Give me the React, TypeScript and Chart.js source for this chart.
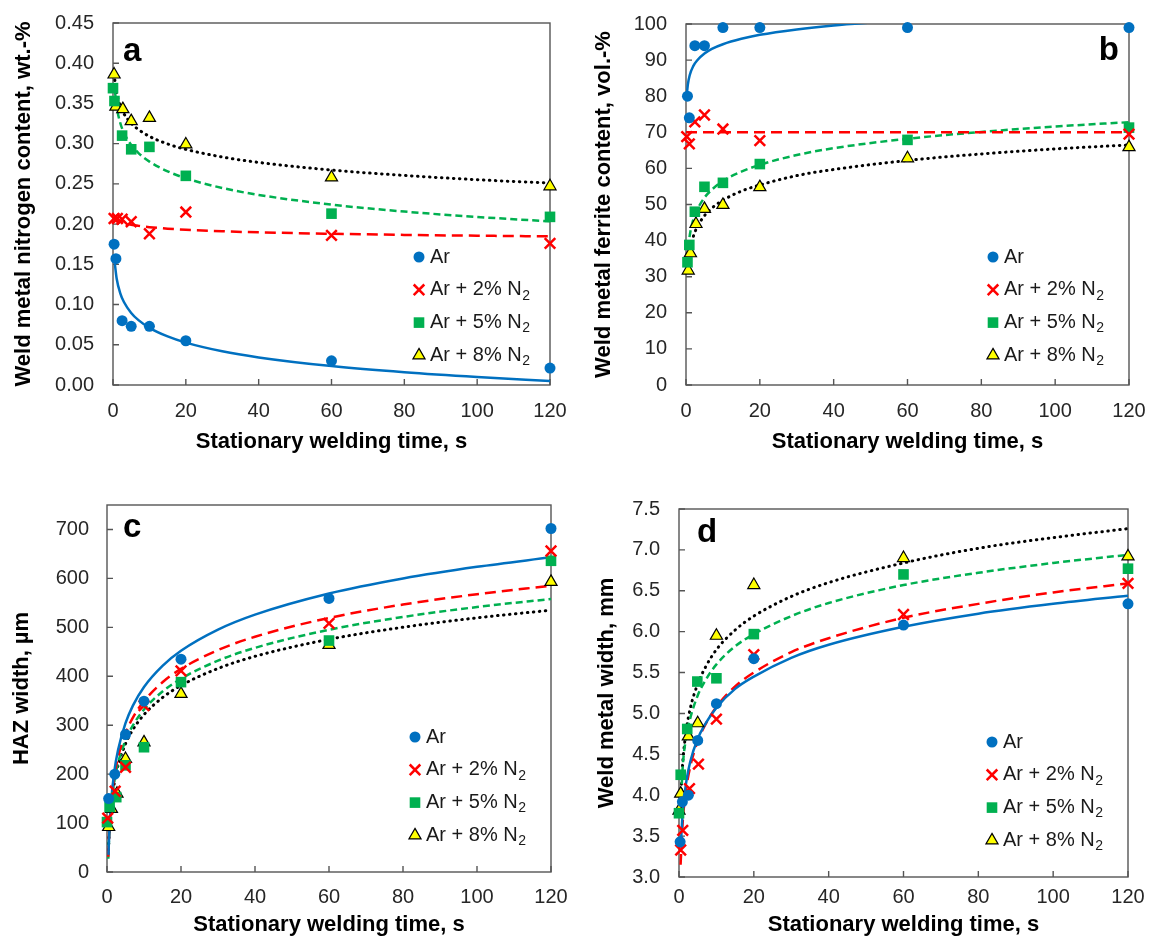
import React, { useEffect, useRef } from "react";
import { Chart, registerables } from "chart.js";

Chart.register(...registerables);

const FONT = '"Liberation Sans", Arial, Helvetica, sans-serif';

// ---------- shared ----------
const X_TICKS_MAX = 120;
const X_STEP = 20;
const X_TITLE = "Stationary welding time, s";
const LEGEND_LABELS = ["Ar", "Ar + 2% N", "Ar + 5% N", "Ar + 8% N"];
const LEGEND_SUBS = ["", "2", "2", "2"];

// ---------- panel a : nitrogen content ----------
const A_AR_X = [0.3, 0.8, 2.5, 5, 10, 20, 60, 120];
const A_AR_Y = [0.175, 0.157, 0.08, 0.073, 0.073, 0.055, 0.03, 0.021];
const A_N2_X = [0.3, 1.2, 2.5, 5, 10, 20, 60, 120];
const A_N2_Y = [0.207, 0.207, 0.206, 0.203, 0.188, 0.215, 0.186, 0.176];
const A_N5_X = [0, 0.4, 2.5, 5, 10, 20, 60, 120];
const A_N5_Y = [0.369, 0.353, 0.31, 0.293, 0.296, 0.26, 0.213, 0.209];
const A_N8_X = [0.3, 0.8, 2.7, 5, 10, 20, 60, 120];
const A_N8_Y = [0.386, 0.346, 0.343, 0.328, 0.332, 0.299, 0.258, 0.247];

const A_TREND_X = [0.5, 1, 2, 3, 5, 7, 10, 15, 20, 30, 40, 60, 80, 100, 120];
const A_AR_TY = [0.1508, 0.1324, 0.114, 0.1032, 0.0896, 0.0806, 0.0711, 0.0604, 0.0527, 0.0419, 0.0343, 0.0235, 0.0158, 0.0099, 0.0051];
const A_N2_TY = [0.2099, 0.2067, 0.2035, 0.2017, 0.1993, 0.1978, 0.1962, 0.1943, 0.193, 0.1911, 0.1898, 0.188, 0.1866, 0.1856, 0.1848];
const A_N5_TY = [0.3671, 0.3464, 0.3257, 0.3136, 0.2984, 0.2883, 0.2777, 0.2656, 0.257, 0.2449, 0.2363, 0.2242, 0.2156, 0.2089, 0.2035];
const A_N8_TY = [0.3792, 0.363, 0.3468, 0.3373, 0.3254, 0.3175, 0.3091, 0.2996, 0.2929, 0.2834, 0.2767, 0.2672, 0.2605, 0.2552, 0.251];

// ---------- panel b : ferrite content ----------
const B_AR_X = [0.4, 0.9, 2.4, 5, 10, 20, 60, 120];
const B_AR_Y = [80, 74, 94, 94, 99, 99, 99, 99];
const B_N2_X = [0.2, 0.9, 2.4, 5, 10, 20, 120];
const B_N2_Y = [68.8, 66.8, 72.9, 74.8, 70.9, 67.7, 69.5];
const B_N5_X = [0.4, 0.9, 2.4, 5, 10, 20, 60, 120];
const B_N5_Y = [34.0, 38.8, 48.0, 54.9, 56.0, 61.2, 67.9, 71.3];
const B_N8_X = [0.6, 1.2, 2.7, 5, 10, 20, 60, 120];
const B_N8_Y = [31.7, 36.5, 44.6, 48.8, 49.9, 54.8, 62.8, 65.9];

const B_AR_TX = [0.3, 0.5, 1, 2, 3, 5, 7, 10, 15, 20, 30, 40, 50, 60];
const B_AR_TY = [81.3, 83.2, 85.8, 88.4, 89.9, 91.8, 93.1, 94.4, 95.9, 97.0, 98.5, 99.6, 100.4, 101.1];
const B_N2_TX = [0, 120];
const B_N2_TY = [70, 70];
const B_N5_TX = [0.6, 1, 2, 3, 5, 7, 10, 15, 20, 30, 40, 60, 80, 100, 120];
const B_N5_TY = [37.9, 41.3, 45.9, 48.5, 51.9, 54.1, 56.5, 59.1, 61.0, 63.7, 65.6, 68.2, 70.1, 71.6, 72.8];
const B_N8_TX = [0.7, 1, 2, 3, 5, 7, 10, 15, 20, 30, 40, 60, 80, 100, 120];
const B_N8_TY = [34.7, 36.9, 41.2, 43.7, 46.9, 49.0, 51.2, 53.7, 55.4, 58.0, 59.7, 62.2, 64.0, 65.4, 66.5];

// ---------- panel c : HAZ width ----------
const C_AR_X = [0.45, 2.1, 5, 10, 20, 60, 120];
const C_AR_Y = [150, 200, 281, 349, 435, 559, 702];
const C_N2_X = [0.2, 2.2, 5, 10, 20, 60, 120];
const C_N2_Y = [110, 165, 214, 340, 411, 508, 656];
const C_N5_X = [0, 0.7, 2.5, 5, 10, 20, 60, 120];
const C_N5_Y = [102, 133, 153, 218, 255, 388, 473, 636];
const C_N8_X = [0.45, 1.2, 2.7, 5, 10, 20, 60, 120];
const C_N8_Y = [92, 129, 160, 231, 265, 364, 464, 593];

const C_AR_TX = [0.4, 0.5, 1, 2, 3, 5, 7, 10, 15, 20, 30, 40, 60, 80, 100, 120];
const C_AR_TY = [35, 58.8, 132.7, 206.6, 249.8, 304.3, 340.1, 378.2, 421.4, 452.1, 495.3, 525.9, 569.1, 599.8, 623.6, 643.0];
const C_N2_TX = [0.35, 0.5, 1, 2, 3, 5, 7, 10, 15, 20, 30, 40, 60, 80, 100, 120];
const C_N2_TY = [31, 64.9, 130.7, 196.5, 235.0, 283.4, 315.4, 349.2, 387.7, 415.0, 453.5, 480.8, 519.2, 546.6, 567.7, 585.0];
const C_N5_TX = [0.35, 0.5, 1, 2, 3, 5, 7, 10, 15, 20, 30, 40, 60, 80, 100, 120];
const C_N5_TY = [27, 59.3, 122.4, 185.5, 222.4, 268.8, 299.5, 332.0, 368.8, 395.0, 431.9, 458.1, 495.0, 521.2, 541.5, 558.0];
const C_N8_TX = [0.4, 0.5, 1, 2, 3, 5, 7, 10, 15, 20, 30, 40, 60, 80, 100, 120];
const C_N8_TY = [45, 64.3, 123.8, 183.3, 218.2, 262.0, 291.0, 321.6, 356.4, 381.2, 415.9, 440.7, 475.5, 500.2, 519.4, 535.0];

// ---------- panel d : weld metal width ----------
const D_AR_X = [0.3, 0.9, 2.5, 5, 10, 20, 60, 120];
const D_AR_Y = [3.43, 3.92, 4.0, 4.67, 5.12, 5.67, 6.08, 6.34];
const D_N2_X = [0.45, 1, 2.8, 5.2, 10, 20, 60, 120];
const D_N2_Y = [3.33, 3.57, 4.08, 4.38, 4.93, 5.72, 6.21, 6.59];
const D_N5_X = [0, 0.45, 2.2, 4.9, 10, 20, 60, 120];
const D_N5_Y = [3.78, 4.25, 4.81, 5.39, 5.43, 5.97, 6.7, 6.77];
const D_N8_X = [0, 0.45, 2.5, 5, 10, 20, 60, 120];
const D_N8_Y = [3.81, 4.02, 4.72, 4.88, 5.95, 6.57, 6.9, 6.92];

const D_AR_TX = [0.45, 1, 2, 3, 5, 7, 10, 15, 20, 30, 40, 60, 80, 100, 120];
const D_AR_TY = [3.36, 3.8, 4.18, 4.41, 4.69, 4.87, 5.07, 5.3, 5.45, 5.68, 5.84, 6.06, 6.22, 6.34, 6.44];
const D_N2_TX = [0.42, 1, 2, 3, 5, 7, 10, 15, 20, 30, 40, 60, 80, 100, 120];
const D_N2_TY = [3.15, 3.68, 4.1, 4.35, 4.66, 4.86, 5.08, 5.33, 5.5, 5.75, 5.92, 6.17, 6.34, 6.48, 6.59];
const D_N5_TX = [0.32, 1, 2, 3, 5, 7, 10, 15, 20, 30, 40, 60, 80, 100, 120];
const D_N5_TY = [3.73, 4.35, 4.73, 4.94, 5.22, 5.4, 5.6, 5.82, 5.97, 6.19, 6.35, 6.57, 6.72, 6.84, 6.94];
const D_N8_TX = [0.5, 1, 2, 3, 5, 7, 10, 15, 20, 30, 40, 60, 80, 100, 120];
const D_N8_TY = [3.99, 4.4, 4.81, 5.06, 5.36, 5.56, 5.78, 6.02, 6.19, 6.43, 6.6, 6.84, 7.02, 7.15, 7.26];

// ---------- styles ----------
const STYLES = [
  { line: "#0070C0", point: "circle", radius: 5.5, fill: "#0070C0", stroke: "#0070C0", pbw: 0, dash: [] as number[], cap: "butt" },
  { line: "#FF0000", point: "crossRot", radius: 7.5, fill: "#FF0000", stroke: "#FF0000", pbw: 2.5, dash: [11, 6], cap: "butt" },
  { line: "#00B050", point: "rect", radius: 7.5, fill: "#00B050", stroke: "#00B050", pbw: 0, dash: [7, 4], cap: "butt" },
  { line: "#000000", point: "triangle", radius: 7, fill: "#FFFF00", stroke: "#000000", pbw: 1.2, dash: [0.5, 5.5], cap: "round" },
];

const PANELS = [
  {
    key: "a", left: 0, top: 0, width: 575, height: 470,
    padding: { left: 11, top: 23, right: 25, bottom: 15 },
    yWidth: 102, xHeight: 70, yTickPad: 19, xTickPad: 14,
    yMin: 0, yMax: 0.45, yStep: 0.05, yDec: 2, yLabelMax: 0.45,
    yTitle: "Weld metal nitrogen content, wt.-%",
    letter: "a", letterDx: 10, letterDy: 38, letterAlign: "left", letterSize: 33,
    legDx: 131, legDy: 128,
    series: [
      [A_AR_X, A_AR_Y, A_TREND_X, A_AR_TY],
      [A_N2_X, A_N2_Y, A_TREND_X, A_N2_TY],
      [A_N5_X, A_N5_Y, A_TREND_X, A_N5_TY],
      [A_N8_X, A_N8_Y, A_TREND_X, A_N8_TY],
    ],
  },
  {
    key: "b", left: 575, top: 0, width: 576, height: 470,
    padding: { left: 16, top: 24, right: 22, bottom: 15 },
    yWidth: 95, xHeight: 70, yTickPad: 19, xTickPad: 14,
    yMin: 0, yMax: 100, yStep: 10, yDec: 0, yLabelMax: 100,
    yTitle: "Weld metal ferrite content, vol.-%",
    letter: "b", letterDx: -10, letterDy: 36, letterAlign: "right", letterSize: 33,
    legDx: 136, legDy: 128,
    series: [
      [B_AR_X, B_AR_Y, B_AR_TX, B_AR_TY],
      [B_N2_X, B_N2_Y, B_N2_TX, B_N2_TY],
      [B_N5_X, B_N5_Y, B_N5_TX, B_N5_TY],
      [B_N8_X, B_N8_Y, B_N8_TX, B_N8_TY],
    ],
  },
  {
    key: "c", left: 0, top: 470, width: 575, height: 474,
    padding: { left: 9, top: 35, right: 24, bottom: 6 },
    yWidth: 98, xHeight: 66, yTickPad: 18, xTickPad: 13,
    yMin: 0, yMax: 750, yStep: 100, yDec: 0, yLabelMax: 700,
    yTitle: "HAZ width, µm",
    letter: "c", letterDx: 16, letterDy: 32, letterAlign: "left", letterSize: 33,
    legDx: 136, legDy: 135,
    series: [
      [C_AR_X, C_AR_Y, C_AR_TX, C_AR_TY],
      [C_N2_X, C_N2_Y, C_N2_TX, C_N2_TY],
      [C_N5_X, C_N5_Y, C_N5_TX, C_N5_TY],
      [C_N8_X, C_N8_Y, C_N8_TX, C_N8_TY],
    ],
  },
  {
    key: "d", left: 575, top: 470, width: 576, height: 474,
    padding: { left: 19, top: 39, right: 23, bottom: 6 },
    yWidth: 85, xHeight: 61, yTickPad: 19, xTickPad: 8,
    yMin: 3, yMax: 7.5, yStep: 0.5, yDec: 1, yLabelMax: 7.5,
    yTitle: "Weld metal width, mm",
    letter: "d", letterDx: 18, letterDy: 33, letterAlign: "left", letterSize: 33,
    legDx: 136, legDy: 135,
    series: [
      [D_AR_X, D_AR_Y, D_AR_TX, D_AR_TY],
      [D_N2_X, D_N2_Y, D_N2_TX, D_N2_TY],
      [D_N5_X, D_N5_Y, D_N5_TX, D_N5_TY],
      [D_N8_X, D_N8_Y, D_N8_TX, D_N8_TY],
    ],
  },
];

function drawMarker(ctx: CanvasRenderingContext2D, st: any, x: number, y: number) {
  const r = st.radius;
  ctx.save();
  ctx.fillStyle = st.fill;
  ctx.strokeStyle = st.stroke;
  ctx.lineWidth = st.pbw;
  ctx.setLineDash([]);
  if (st.point === "circle") {
    ctx.beginPath();
    ctx.arc(x, y, r, 0, Math.PI * 2);
    ctx.fill();
  } else if (st.point === "crossRot") {
    const o = r * Math.SQRT1_2;
    ctx.beginPath();
    ctx.moveTo(x - o, y - o); ctx.lineTo(x + o, y + o);
    ctx.moveTo(x - o, y + o); ctx.lineTo(x + o, y - o);
    ctx.stroke();
  } else if (st.point === "rect") {
    const s = r * Math.SQRT1_2;
    ctx.fillRect(x - s, y - s, 2 * s, 2 * s);
  } else if (st.point === "triangle") {
    ctx.beginPath();
    ctx.moveTo(x, y - r);
    ctx.lineTo(x + r * Math.sin((2 * Math.PI) / 3), y - r * Math.cos((2 * Math.PI) / 3));
    ctx.lineTo(x + r * Math.sin((4 * Math.PI) / 3), y - r * Math.cos((4 * Math.PI) / 3));
    ctx.closePath();
    ctx.fill();
    ctx.stroke();
  }
  ctx.restore();
}

const framePlugin = {
  id: "frame",
  beforeDatasetsDraw(chart: any) {
    const { ctx, chartArea } = chart;
    const { left, right, top, bottom } = chartArea;
    const xs = chart.scales.x;
    const ys = chart.scales.y;
    ctx.save();
    ctx.strokeStyle = "#555555";
    ctx.lineWidth = 1.4;
    ctx.strokeRect(left, top, right - left, bottom - top);
    ctx.beginPath();
    xs.ticks.forEach((t: any) => {
      const px = xs.getPixelForValue(t.value);
      ctx.moveTo(px, bottom);
      ctx.lineTo(px, bottom - 6);
    });
    ys.ticks.forEach((t: any) => {
      const py = ys.getPixelForValue(t.value);
      ctx.moveTo(left, py);
      ctx.lineTo(left + 6, py);
    });
    ctx.stroke();
    ctx.restore();
  },
};

const decoPlugin = {
  id: "deco",
  afterDraw(chart: any, _args: any, opts: any) {
    const { ctx, chartArea } = chart;
    const p = opts.panel;
    ctx.save();
    // panel letter
    ctx.fillStyle = "#000";
    ctx.font = `bold ${p.letterSize}px ${FONT}`;
    ctx.textBaseline = "alphabetic";
    ctx.textAlign = p.letterAlign;
    const lx = p.letterAlign === "left" ? chartArea.left + p.letterDx : chartArea.right + p.letterDx;
    ctx.fillText(p.letter, lx, chartArea.top + p.letterDy);
    // legend
    const mx = chartArea.right - p.legDx;
    const y0 = chartArea.bottom - p.legDy;
    const rowH = 32.8;
    LEGEND_LABELS.forEach((lab, i) => {
      const y = y0 + i * rowH;
      drawMarker(ctx, STYLES[i], mx, y);
      ctx.fillStyle = "#1a1a1a";
      ctx.textAlign = "left";
      ctx.textBaseline = "middle";
      ctx.font = `20px ${FONT}`;
      const tx = mx + 11;
      ctx.fillText(lab, tx, y);
      if (LEGEND_SUBS[i]) {
        const w = ctx.measureText(lab).width;
        ctx.font = `14px ${FONT}`;
        ctx.fillText(LEGEND_SUBS[i], tx + w + 0.5, y + 6);
      }
    });
    ctx.restore();
  },
};

function zeroPad(sc: any) {
  sc.paddingTop = 0;
  sc.paddingBottom = 0;
  sc.paddingLeft = 0;
  sc.paddingRight = 0;
}

function buildConfig(p: any) {
  const datasets: any[] = [];
  p.series.forEach((s: any, i: number) => {
    const st = STYLES[i];
    datasets.push({
      label: LEGEND_LABELS[i],
      data: s[0].map((x: number, j: number) => ({ x, y: s[1][j] })),
      showLine: false,
      pointStyle: st.point,
      pointRadius: st.radius,
      pointBackgroundColor: st.fill,
      pointBorderColor: st.stroke,
      pointBorderWidth: st.pbw,
      clip: false,
      order: 0,
    });
  });
  p.series.forEach((s: any, i: number) => {
    const st = STYLES[i];
    datasets.push({
      label: LEGEND_LABELS[i] + " trend",
      data: s[2].map((x: number, j: number) => ({ x, y: s[3][j] })),
      showLine: true,
      pointRadius: 0,
      borderColor: st.line,
      borderWidth: i === 3 ? 3 : 2.5,
      borderDash: st.dash,
      borderCapStyle: st.cap,
      cubicInterpolationMode: "monotone",
      fill: false,
      order: 1,
    });
  });
  return {
    type: "scatter",
    data: { datasets },
    options: {
      responsive: false,
      animation: false,
      events: [],
      layout: { padding: p.padding },
      plugins: {
        legend: { display: false },
        tooltip: { enabled: false },
        deco: { panel: p },
      },
      scales: {
        x: {
          type: "linear",
          min: 0,
          max: X_TICKS_MAX,
          grid: { display: false, drawTicks: false },
          border: { display: false },
          ticks: {
            stepSize: X_STEP,
            padding: p.xTickPad,
            color: "#262626",
            font: { family: FONT, size: 20 },
            maxRotation: 0,
          },
          title: {
            display: true,
            text: X_TITLE,
            color: "#000",
            padding: 0,
            font: { family: FONT, size: 22, weight: "bold" },
          },
          afterFit: (sc: any) => { sc.height = p.xHeight; zeroPad(sc); },
        },
        y: {
          type: "linear",
          min: p.yMin,
          max: p.yMax,
          grid: { display: false, drawTicks: false },
          border: { display: false },
          ticks: {
            stepSize: p.yStep,
            padding: p.yTickPad,
            color: "#262626",
            font: { family: FONT, size: 20 },
            callback: (v: any) => Number(v).toFixed(p.yDec),
          },
          afterBuildTicks: (sc: any) => {
            sc.ticks = sc.ticks.filter((t: any) => t.value <= p.yLabelMax + 1e-9);
          },
          title: {
            display: true,
            text: p.yTitle,
            color: "#000",
            padding: 0,
            font: { family: FONT, size: 22, weight: "bold" },
          },
          afterFit: (sc: any) => { sc.width = p.yWidth; zeroPad(sc); },
        },
      },
    },
    plugins: [framePlugin, decoPlugin],
  };
}

function Panel({ p }: { p: any }) {
  const ref = useRef<HTMLCanvasElement | null>(null);
  useEffect(() => {
    if (!ref.current) return;
    const chart = new Chart(ref.current, buildConfig(p) as any);
    return () => chart.destroy();
  }, [p]);
  return (
    <div style={{ position: "absolute", left: p.left, top: p.top, width: p.width, height: p.height }}>
      <canvas ref={ref} width={p.width} height={p.height} style={{ width: p.width, height: p.height, display: "block" }} />
    </div>
  );
}

export default function App() {
  return (
    <div style={{ position: "absolute", left: 0, top: 0, width: 1151, height: 944, background: "#fff" }}>
      {PANELS.map((p) => (
        <Panel key={p.key} p={p} />
      ))}
    </div>
  );
}
